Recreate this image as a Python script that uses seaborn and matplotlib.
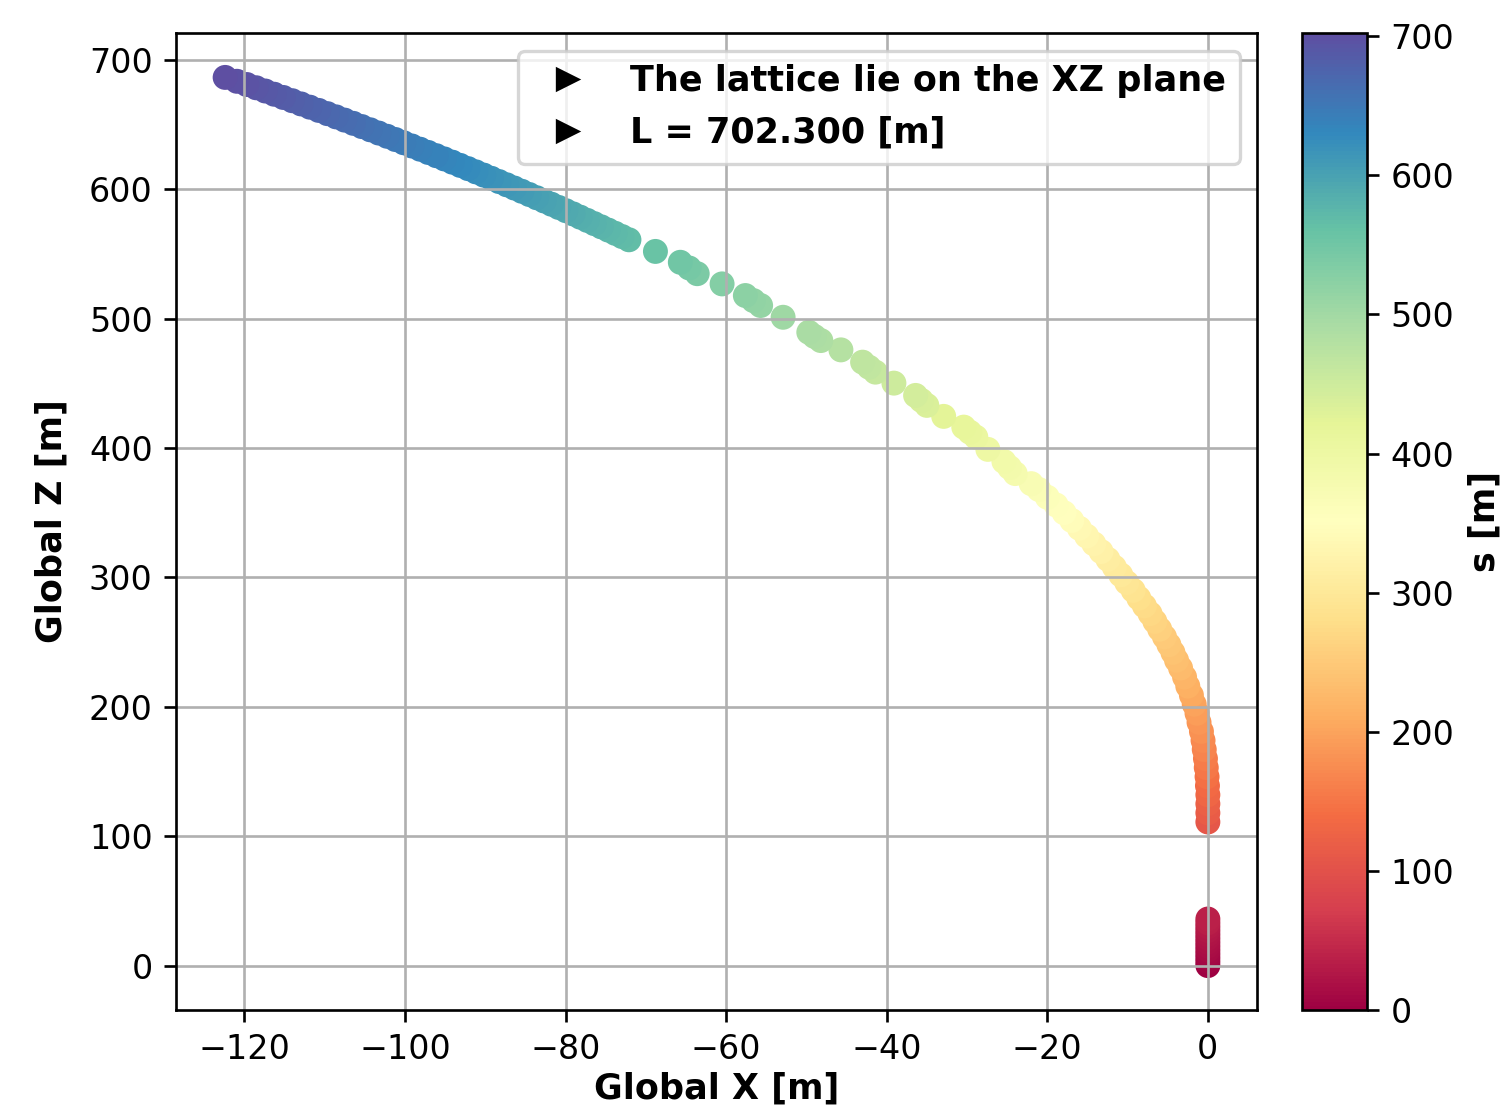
import numpy as np
import pandas as pd
import matplotlib
matplotlib.use("Agg")
import matplotlib.pyplot as plt
from matplotlib.colors import Normalize
from matplotlib.cm import ScalarMappable
from matplotlib.lines import Line2D
import seaborn as sns

# ---- Lattice survey: global coordinates [m] and longitudinal position s [m] ----
# Straight injection section along Z
x_straight = [0.0] * 13
z_straight = [0.0, 3.0, 6.0, 9.0, 12.0, 15.0, 18.0, 21.0, 24.0, 27.0, 30.0, 33.0, 36.0]
s_straight = [0.0, 3.0, 6.0, 9.0, 12.0, 15.0, 18.0, 21.0, 24.0, 27.0, 30.0, 33.0, 36.0]

# Start of the bending section (densely packed elements)
x_bend_low = [0.0, 0.0, 0.0, 0.0, -0.05, -0.1, -0.2, -0.3, -0.45, -0.6, -0.8, -1.1,
              -1.35, -1.7, -2.05, -2.5, -2.9, -3.4, -3.9, -4.35, -4.85, -5.4, -6.0,
              -6.6, -7.2, -7.9, -8.6, -9.3, -10.1, -10.85, -11.65, -12.45, -13.3,
              -14.2, -15.1, -16.0, -16.95, -17.9, -18.9, -20.0, -21.05]
z_bend_low = [111, 118, 125, 132, 139, 146, 153, 160, 167, 174, 181, 188, 195, 202,
              209, 216, 223, 230, 236, 242, 248, 254, 260, 266, 272, 278, 284, 290,
              296, 302, 308, 314, 320, 326, 332, 338, 344, 350, 356, 362, 368]
s_bend_low = [109.1, 116.1, 123.1, 130.1, 137.1, 144.1, 151.1, 158.1, 165.1, 172.1,
              179.1, 186.1, 193.1, 200.1, 207.1, 214.2, 221.2, 228.2, 234.2, 240.2,
              246.2, 252.3, 258.3, 264.3, 270.3, 276.4, 282.4, 288.5, 294.5, 300.6,
              306.6, 312.7, 318.7, 324.8, 330.9, 337.0, 343.0, 349.1, 355.2, 361.3,
              367.4]

# Arc cells: quadrupole, dipole, quadrupole, ...
x_cells = [-22.0, -24.0, -24.7, -25.4, -27.4, -28.9, -29.65, -30.4, -32.9, -35.0,
           -35.7, -36.4, -39.1, -41.4, -42.2, -43.0, -45.7, -48.2, -49.0, -49.7,
           -52.9, -55.7, -56.6, -57.6, -60.5, -63.6, -64.6, -65.7, -68.8]
z_cells = [372.5, 380.3, 385.0, 389.6, 399.0, 408.5, 412.3, 416.2, 424.5, 433.0,
           436.9, 440.7, 450.2, 458.7, 462.5, 466.4, 475.9, 483.1, 486.3, 489.5,
           501.1, 510.2, 514.0, 517.9, 526.9, 534.8, 539.2, 543.6, 552.0]
s_cells = [371.9, 379.9, 384.7, 389.4, 399.0, 408.7, 412.6, 416.6, 425.1, 433.9,
           437.9, 441.8, 451.5, 460.3, 464.2, 468.3, 478.1, 485.6, 488.9, 492.2,
           504.3, 513.8, 517.8, 521.9, 531.3, 539.6, 544.2, 548.8, 557.6]

# Final section up to the end of the line
x_bend_high = [-72.10, -72.96, -73.82, -74.68, -75.55, -76.43, -77.30, -78.18,
               -79.06, -79.96, -80.86, -81.76, -82.67, -83.60, -84.52, -85.45,
               -86.38, -87.33, -88.28, -89.23, -90.19, -91.17, -92.14, -93.12,
               -94.10, -95.10, -96.10, -97.10, -98.11, -99.14, -100.16, -101.19,
               -102.22, -103.27, -104.32, -105.37, -106.43, -107.51, -108.58,
               -109.66, -110.74, -111.84, -112.94, -114.04, -115.15, -116.28,
               -117.40, -118.53, -119.69, -120.92, -122.39]
z_bend_high = [561.0, 563.5, 566.0, 568.5, 571.0, 573.5, 576.0, 578.5, 581.0, 583.5,
               586.0, 588.5, 591.0, 593.5, 596.0, 598.5, 601.0, 603.5, 606.0, 608.5,
               611.0, 613.5, 616.0, 618.5, 621.0, 623.5, 626.0, 628.5, 631.0, 633.5,
               636.0, 638.5, 641.0, 643.5, 646.0, 648.5, 651.0, 653.5, 656.0, 658.5,
               661.0, 663.5, 666.0, 668.5, 671.0, 673.5, 676.0, 678.5, 681.0, 683.5,
               686.5]
s_bend_high = [567.1, 569.8, 572.4, 575.1, 577.7, 580.4, 583.0, 585.7, 588.3, 591.0,
               593.6, 596.3, 598.9, 601.6, 604.2, 606.9, 609.6, 612.3, 615.0, 617.6,
               620.3, 623.0, 625.7, 628.4, 631.1, 633.8, 636.5, 639.2, 641.9, 644.6,
               647.3, 650.0, 652.7, 655.3, 658.0, 660.7, 663.4, 666.2, 668.9, 671.6,
               674.4, 677.1, 679.9, 682.6, 685.3, 688.1, 690.8, 693.5, 696.3, 699.0,
               702.3]

lattice_length = 702.3
legend_lines = ["The lattice lie on the XZ plane", f"L = {lattice_length:.3f} [m]"]

survey = pd.DataFrame({
    "X": x_straight + x_bend_low + x_cells + x_bend_high,
    "Z": z_straight + z_bend_low + z_cells + z_bend_high,
    "s": s_straight + s_bend_low + s_cells + s_bend_high,
})

# ---- Figure ----
DPI = 240
fig = plt.figure(figsize=(1511 / DPI, 1109 / DPI), dpi=DPI)
ax = fig.add_axes([176 / 1511, 99 / 1109, 1081 / 1511, 977 / 1109])
cax = fig.add_axes([1302 / 1511, 99 / 1109, 65 / 1511, 977 / 1109])

norm = Normalize(vmin=survey["s"].min(), vmax=survey["s"].max())
cmap = plt.get_cmap("Spectral")

sns.scatterplot(data=survey, x="X", y="Z", hue="s", palette=cmap, hue_norm=norm,
                s=56, linewidth=0, legend=False, ax=ax)

ax.grid(True)
ax.tick_params(labelsize=10)
ax.set_xlabel("Global X [m]", fontsize=10.5, fontweight="bold", labelpad=1.5)
ax.set_ylabel("Global Z [m]", fontsize=10.5, fontweight="bold", labelpad=6)

handles = [Line2D([], [], marker=">", color="k", linestyle="none", markersize=6)
           for _ in legend_lines]
ax.legend(handles, legend_lines, loc="upper right",
          prop={"size": 10.5, "weight": "bold"})

cbar = fig.colorbar(ScalarMappable(norm=norm, cmap=cmap), cax=cax)
cbar.ax.tick_params(labelsize=10)
cbar.set_label("s [m]", fontsize=10.5, fontweight="bold")

fig.savefig("out.png", dpi=DPI)
